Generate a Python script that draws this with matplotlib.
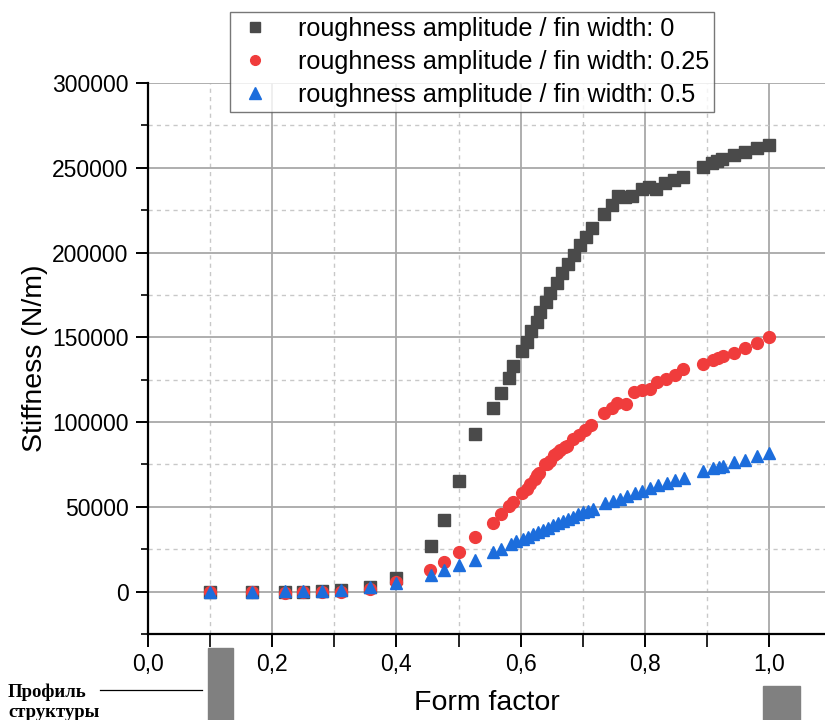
import matplotlib
matplotlib.use("Agg")
import matplotlib.pyplot as plt
from matplotlib.ticker import MultipleLocator, FuncFormatter
from matplotlib.patches import Rectangle
from matplotlib.lines import Line2D

plt.rcParams['font.family'] = ['Liberation Sans', 'DejaVu Sans']

# form factor vs stiffness
x_r0 = [0.1, 0.167, 0.22, 0.25, 0.28, 0.31, 0.357, 0.4, 0.455, 0.477, 0.5, 0.527,
        0.556, 0.568, 0.581, 0.588, 0.602, 0.61, 0.617, 0.626, 0.632, 0.641, 0.648,
        0.658, 0.667, 0.676, 0.686, 0.695, 0.705, 0.715, 0.735, 0.747, 0.757, 0.768,
        0.78, 0.795, 0.807, 0.818, 0.833, 0.847, 0.862, 0.893, 0.908, 0.917, 0.925,
        0.943, 0.961, 0.98, 1.0]
y_r0 = [0, 0, 0, 0, 500, 1000, 2500, 8300, 26800, 42300, 65500, 93200,
        108300, 117400, 125800, 133000, 141700, 147200, 153500, 159000, 165200, 171100, 176400,
        182100, 188000, 193100, 198800, 204200, 209200, 214500, 222600, 228200, 233500, 232500,
        233300, 237400, 238600, 237400, 240800, 242900, 244700, 250200, 252600, 254100, 255100,
        257500, 259300, 261400, 263600]

x_r025 = [0.1, 0.167, 0.22, 0.25, 0.28, 0.31, 0.357, 0.4, 0.454, 0.477, 0.5, 0.527,
          0.556, 0.568, 0.582, 0.588, 0.603, 0.61, 0.615, 0.623, 0.626, 0.63, 0.639,
          0.642, 0.648, 0.653, 0.658, 0.663, 0.671, 0.674, 0.685, 0.694, 0.703, 0.714,
          0.734, 0.747, 0.756, 0.770, 0.783, 0.795, 0.808, 0.819, 0.834, 0.848, 0.862,
          0.893, 0.910, 0.918, 0.926, 0.944, 0.962, 0.981, 1.0]
y_r025 = [0, 0, -800, -500, 0, 0, 1500, 5500, 13000, 17300, 23600, 32100,
          40700, 45500, 50600, 52600, 58300, 60600, 63500, 66500, 68500, 70100, 75000,
          75400, 76800, 80300, 81700, 83300, 85200, 85600, 90000, 92100, 95100, 98000,
          105400, 108500, 111000, 110800, 117500, 118700, 119700, 123600, 125200, 127500, 131100,
          134500, 136400, 137800, 138800, 140700, 143900, 146600, 150200]

x_r05 = [0.1, 0.167, 0.22, 0.25, 0.28, 0.31, 0.357, 0.4, 0.455, 0.477, 0.5, 0.527,
         0.556, 0.568, 0.585, 0.593, 0.604, 0.612, 0.62, 0.628, 0.636, 0.644, 0.652,
         0.66, 0.668, 0.676, 0.684, 0.692, 0.70, 0.708, 0.716, 0.736, 0.749, 0.76,
         0.771, 0.784, 0.795, 0.808, 0.822, 0.835, 0.849, 0.863, 0.894, 0.910, 0.920,
         0.926, 0.944, 0.962, 0.980, 1.0]
y_r05 = [0, 0, 500, 500, 500, 1000, 2500, 5100, 10000, 12800, 15600, 18900,
         23200, 25200, 28100, 29700, 31100, 32500, 34000, 35300, 36500, 37800, 39000,
         40300, 41500, 43000, 44300, 45500, 46700, 47800, 48800, 52000, 53700, 54700,
         56200, 58100, 59400, 60900, 62600, 64300, 66000, 67300, 71000, 72800, 73400,
         74000, 76400, 77900, 79900, 81900]

labels = ["roughness amplitude / fin width: 0",
          "roughness amplitude / fin width: 0.25",
          "roughness amplitude / fin width: 0.5"]

fig = plt.figure(figsize=(8.25, 7.2), dpi=100)
ax = fig.add_axes([148 / 825, 1 - 634 / 720, 1 - 148 / 825, (634 - 83) / 720])

ax.plot(x_r0, y_r0, 's', color='#4a4a4a', ms=8.5, mec='#4a4a4a', ls='none', zorder=3)
ax.plot(x_r025, y_r025, 'o', color='#f03c3c', ms=8.5, mec='#f03c3c', ls='none', zorder=4)
ax.plot(x_r05, y_r05, '^', color='#1c6ddc', ms=9, mec='#1c6ddc', ls='none', zorder=5)

ax.set_xlim(0, (825 - 148) / 621)
ax.set_ylim(-25000, 300000)

ax.xaxis.set_major_locator(MultipleLocator(0.2))
ax.xaxis.set_minor_locator(MultipleLocator(0.1))
ax.yaxis.set_major_locator(MultipleLocator(50000))
ax.yaxis.set_minor_locator(MultipleLocator(25000))
ax.xaxis.set_major_formatter(FuncFormatter(lambda v, p: f"{v:.1f}".replace('.', ',')))
ax.yaxis.set_major_formatter(FuncFormatter(lambda v, p: f"{v:.0f}"))

ax.grid(which='major', color='#a8a8a8', lw=1.3, ls='-', zorder=0)
ax.grid(which='minor', color='#c8c8c8', lw=1.0, ls=(0, (3, 3)), zorder=0)
ax.set_axisbelow(True)

for s in ['top', 'right']:
    ax.spines[s].set_visible(False)
for s in ['left', 'bottom']:
    ax.spines[s].set_linewidth(1.6)

ax.tick_params(which='major', direction='out', length=9, width=1.4, labelsize=16.5, pad=5)
ax.tick_params(which='minor', direction='out', length=5, width=1.2)
ax.tick_params(axis='x', which='minor', length=9)

ax.set_ylabel("Stiffness (N/m)", fontsize=20.5, labelpad=3)
ax.set_xlabel("Form factor", fontsize=20.5, labelpad=10)

handles = [Line2D([], [], marker='s', color='#4a4a4a', ls='none', ms=7),
           Line2D([], [], marker='o', color='#f03c3c', ls='none', ms=7),
           Line2D([], [], marker='^', color='#1c6ddc', ls='none', ms=8)]
leg = fig.legend(handles, labels, loc='upper center', bbox_to_anchor=(472 / 825, 1 - 12 / 720),
                 fontsize=18.2, frameon=True, fancybox=False, edgecolor='#555555',
                 handletextpad=0.9, labelspacing=0.36, borderpad=0.2, handlelength=1.6,
                 borderaxespad=0)
leg.get_frame().set_linewidth(1.0)

# structure profile sketches below the axis
fig.patches.append(Rectangle((208 / 825, 0), 25 / 825, (720 - 648) / 720,
                             transform=fig.transFigure, color='#808080', zorder=1))
fig.patches.append(Rectangle((763 / 825, 0), 37 / 825, (720 - 686) / 720,
                             transform=fig.transFigure, color='#808080', zorder=1))
fig.text(8 / 825, 1 - 702 / 720, "Профиль\nструктуры", fontsize=13.5, fontweight='bold',
         family=['Liberation Serif', 'DejaVu Serif'], va='center', ha='left', linespacing=1.2)
fig.add_artist(Line2D([100 / 825, 202 / 825], [1 - 690 / 720, 1 - 690 / 720],
                      transform=fig.transFigure, color='black', lw=0.9))

fig.savefig("out.png", dpi=100)
